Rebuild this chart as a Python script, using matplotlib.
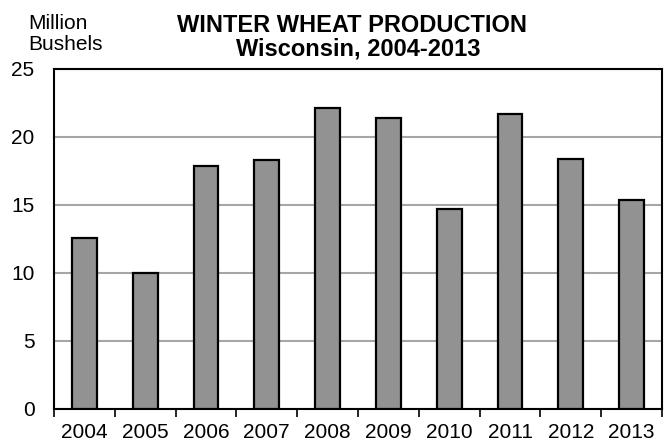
import matplotlib
matplotlib.use("Agg")
import matplotlib.pyplot as plt

years = ["2004", "2005", "2006", "2007", "2008", "2009", "2010", "2011", "2012", "2013"]
production = [12.6, 10.0, 17.9, 18.3, 22.1, 21.4, 14.7, 21.7, 18.4, 15.4]
y_ticks = [0, 5, 10, 15, 20, 25]

plt.rcParams['font.family'] = ['Liberation Sans', 'DejaVu Sans']

fig = plt.figure(figsize=(6.7, 4.43), dpi=100)
ax = fig.add_axes([54/670, 1 - 409/443, (662-54)/670, (409-69)/443])

x = range(len(years))
ax.bar(x, production, width=0.41, color="#929292", edgecolor="black", linewidth=1.6, zorder=3)

ax.set_ylim(0, 25)
ax.set_xlim(-0.5, len(years) - 0.5)
ax.set_yticks(y_ticks)
ax.set_yticklabels([str(v) for v in y_ticks], fontsize=15)
ax.tick_params(axis='y', length=0, pad=14)
ax.yaxis.grid(True, color="#a6a6a6", linewidth=1.5, zorder=0)

ax.set_xticks([i - 0.5 for i in range(len(years) + 1)], minor=False)
ax.set_xticklabels([])
ax.set_xticks(list(x), minor=True)
ax.set_xticklabels(years, minor=True, fontsize=15)
ax.tick_params(axis='x', which='major', length=6, width=1.2, direction='out', color='black')
ax.tick_params(axis='x', which='minor', length=0, pad=10)

for s in ax.spines.values():
    s.set_linewidth(1.5)
    s.set_color("black")

fig.text(352/670, 1 - 25/443, "WINTER WHEAT PRODUCTION", ha='center', va='center',
         fontsize=17, fontweight='bold')
fig.text(358/670, 1 - 49/443, "Wisconsin, 2004-2013", ha='center', va='center',
         fontsize=17, fontweight='bold')
fig.text(28/670, 1 - 50/443, "Million\nBushels", ha='left', va='baseline', fontsize=15,
         linespacing=1.15)

fig.savefig("out.png", dpi=100)
